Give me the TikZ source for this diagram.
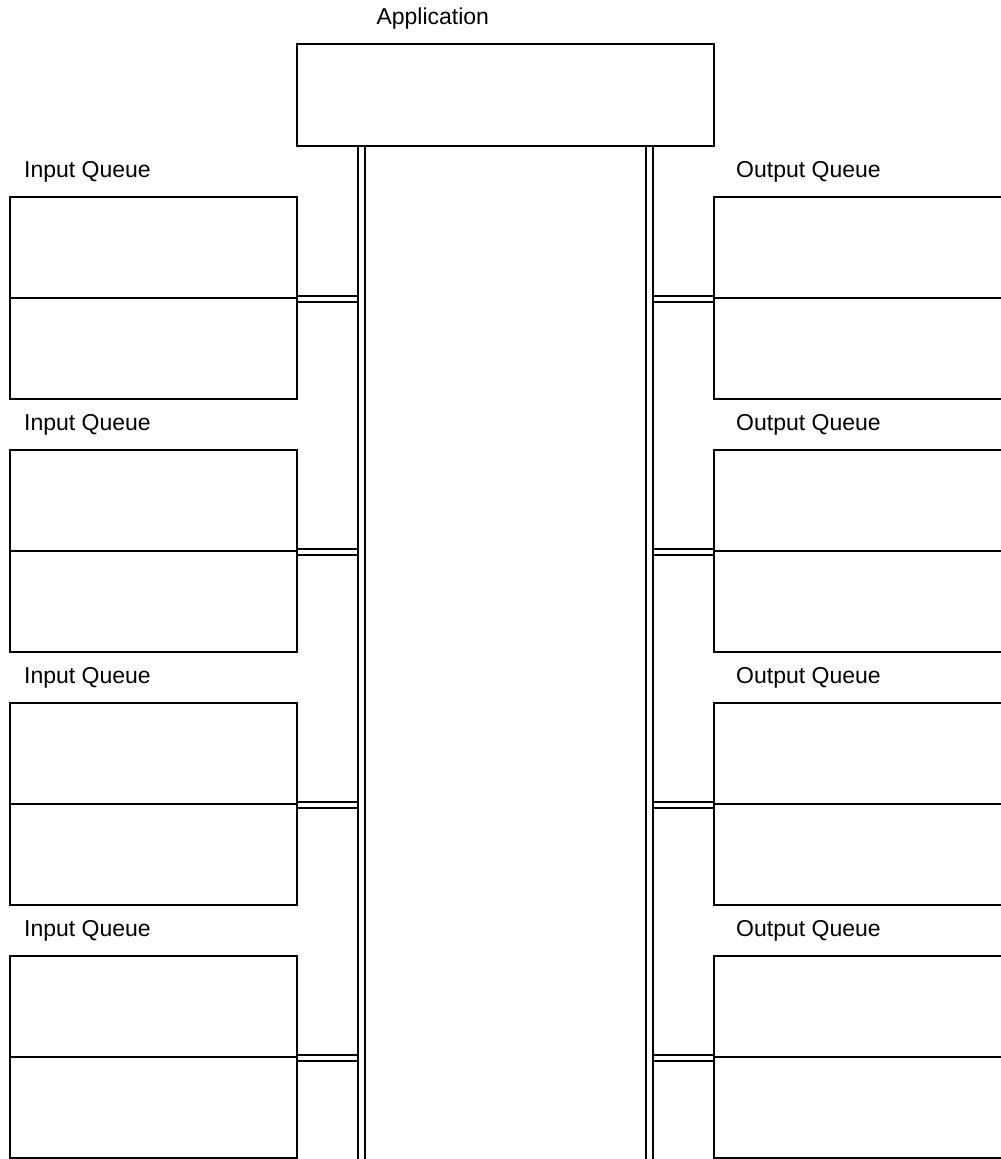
\documentclass[tikz,border=0pt]{standalone}
\usepackage{fontspec}
\setmainfont{Liberation Sans}
\usetikzlibrary{backgrounds,calc}
\tikzset{
  appbox/.style={draw, line width=2pt, minimum width=417pt, minimum height=102pt, inner sep=0pt},
  qbox/.style={draw, line width=2pt, minimum width=287pt, minimum height=101pt, inner sep=0pt},
  qlbl/.style={anchor=base west, inner sep=0pt, font=\fontsize{23}{28}\selectfont},
  link/.style={double, double distance=4.5pt, line width=2pt},
}

\begin{document}
\begin{tikzpicture}[x=1pt,y=-1pt]
  \useasboundingbox (0,0) rectangle (1001,1159);
  \node[appbox] (app) at (505.8,95.2) {};
  \node[qlbl] (applbl) at ($(app.north west)+(80,-19)$) {Application};
  \coordinate (inbus) at (361.5,1159);
  \coordinate (outbus) at (649.7,1159);
  \foreach \i in {1,...,4} {
    \pgfmathsetmacro\ytop{197+253*(\i-1)}
    % input side
    \node[qbox] (inhi\i) at (153.5,\ytop+50.5) {};
    \node[qbox] (inlo\i) at (153.5,\ytop+151.5) {};
    \node[qlbl] (inlbl\i) at ($(inhi\i.north west)+(15,-19)$) {Input Queue};
    % output side
    \node[qbox, minimum width=288pt] (outhi\i) at (858,\ytop+50.5) {};
    \node[qbox, minimum width=288pt] (outlo\i) at (858,\ytop+151.5) {};
    \node[qlbl] (outlbl\i) at ($(outhi\i.north west)+(23,-19)$) {Output Queue};
    \begin{scope}[on background layer]
      \draw[link] (inhi\i.south east) -- (inhi\i.south east -| inbus);
      \draw[link] (outhi\i.south west) -- (outhi\i.south west -| outbus);
    \end{scope}
  }
  \begin{scope}[on background layer]
    \draw[link] (app.south -| inbus) -- (inbus);
    \draw[link] (app.south -| outbus) -- (outbus);
  \end{scope}
\end{tikzpicture}
\end{document}
